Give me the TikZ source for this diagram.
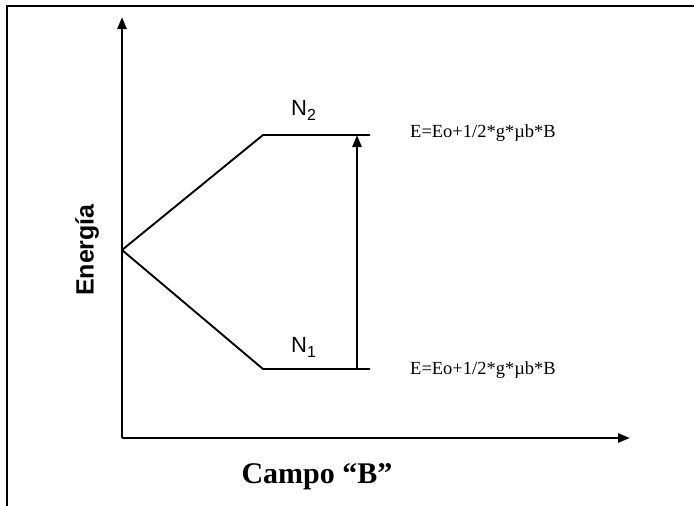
\documentclass[tikz,border=0pt]{standalone}
\usepackage{fontspec}
\setmainfont{Liberation Serif}
\newfontfamily\arialfont{Liberation Sans}
\usetikzlibrary{arrows.meta}
\newcommand{\mysub}[1]{\raisebox{-5pt}{\fontsize{16}{18}\selectfont #1}}
\begin{document}
\begin{tikzpicture}[x=1pt,y=-1pt,
  axis/.style={line width=2.4pt,-{Triangle[length=12pt,width=9pt]}},
  level/.style={line width=1.9pt},
  trans/.style={line width=2.4pt,-{Triangle[length=12pt,width=9pt]}},
  nlabel/.style={font=\arialfont\fontsize{22}{24}\selectfont,inner sep=0pt},
  elabel/.style={font=\fontsize{18.5}{21}\selectfont,inner sep=0pt,anchor=west}]
\useasboundingbox (0,0) rectangle (694,506);
% frame
\draw[line width=2.2pt] (7,506) -- (7,6) -- (694,6);
% axes
\coordinate (O) at (122,438);
\coordinate (ytip) at (122,17);
\coordinate (xtip) at (630,438);
\draw[axis] (O) -- (ytip);
\draw[axis] (O) -- (xtip);
% levels
\coordinate (V) at (122,250);
\coordinate (K2) at (263,135);
\coordinate (E2) at (370,135);
\coordinate (K1) at (263,369);
\coordinate (E1) at (370,369);
\draw[level] (V) -- (K2) -- (E2);
\draw[level] (V) -- (K1) -- (E1);
\coordinate (A1) at (357,369);
\coordinate (A2) at (357,135);
\draw[trans] (A1) -- (A2);
% labels
\node[nlabel,anchor=base west] (n2) at (291,115) {N\mysub{2}};
\node[nlabel,anchor=base west] (n1) at (291,352) {N\mysub{1}};
\node[elabel] (e2) at (410,133) {E=Eo+1/2*g*µb*B};
\node[elabel] (e1) at (410,370) {E=Eo+1/2*g*µb*B};
\node[font=\arialfont\bfseries\fontsize{25}{28}\selectfont,rotate=90,inner sep=0pt] (en) at (87,250) {Energía};
\node[font=\bfseries\fontsize{30}{34}\selectfont,inner sep=0pt,anchor=base] (cb) at (317,483) {Campo “B”};
\end{tikzpicture}
\end{document}
